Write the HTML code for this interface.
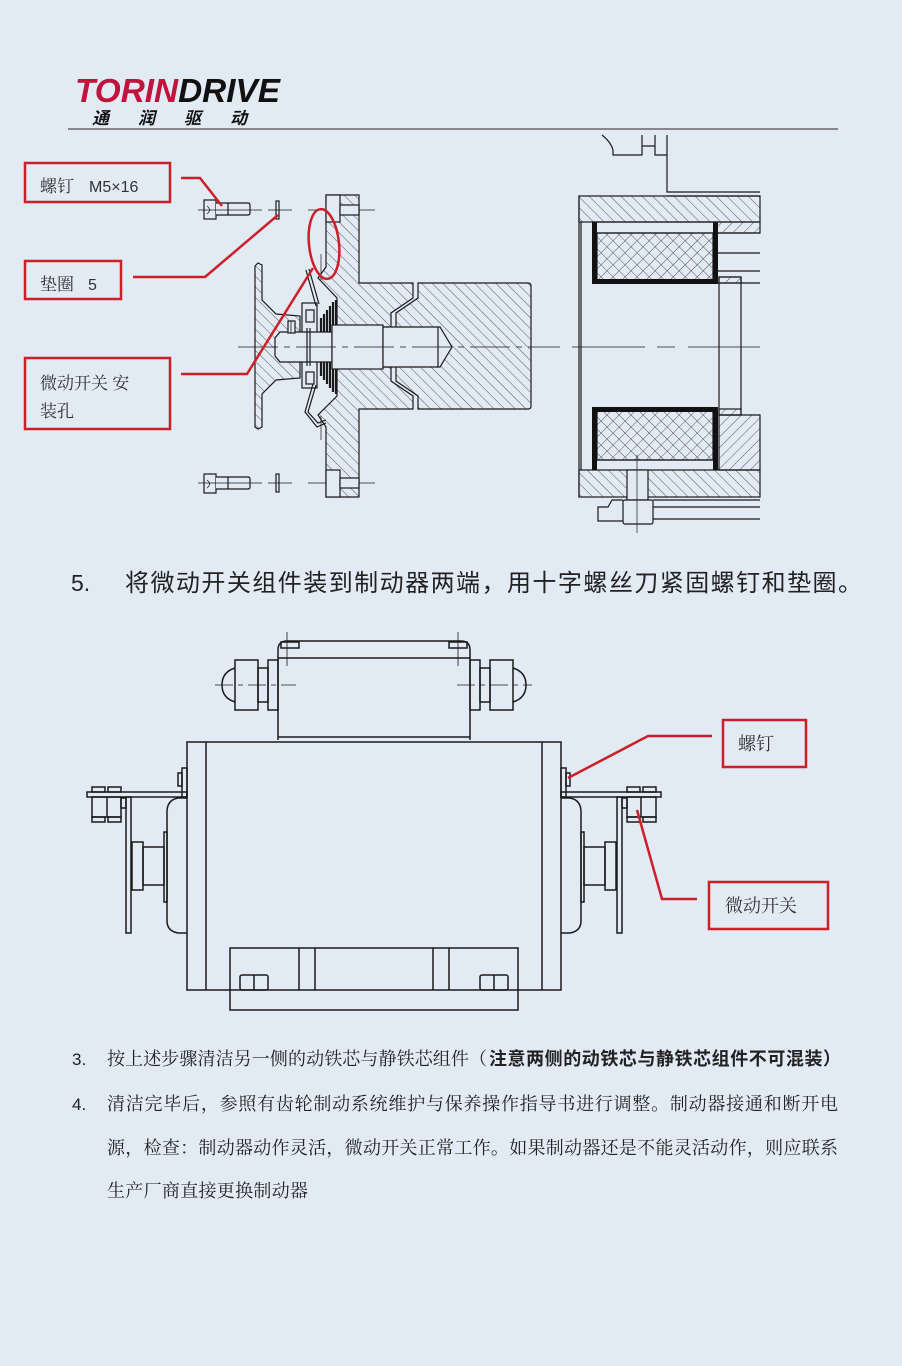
<!DOCTYPE html>
<html><head><meta charset="utf-8"><style>
html,body{margin:0;padding:0;background:#e2eaf4;}
svg{display:block;}
.cjk{font-family:"Liberation Sans","Noto Sans CJK SC",sans-serif;}
.ser{font-family:"Liberation Serif","Noto Serif CJK SC",serif;}
</style></head><body>
<svg width="902" height="1366" viewBox="0 0 902 1366" xmlns="http://www.w3.org/2000/svg">
<defs>
<pattern id="h" patternUnits="userSpaceOnUse" width="7.5" height="7.5" patternTransform="rotate(-45)"><line x1="0" y1="0" x2="0" y2="7.5" stroke="#333" stroke-width="0.8"/></pattern>
<pattern id="h2" patternUnits="userSpaceOnUse" width="7.5" height="7.5" patternTransform="rotate(45)"><line x1="0" y1="0" x2="0" y2="7.5" stroke="#333" stroke-width="0.8"/></pattern>
<pattern id="x" patternUnits="userSpaceOnUse" width="8.5" height="8.5" patternTransform="rotate(45)"><line x1="0" y1="0" x2="0" y2="8.5" stroke="#333" stroke-width="0.8"/><line x1="0" y1="0" x2="8.5" y2="0" stroke="#333" stroke-width="0.8"/></pattern>
</defs>
<rect width="902" height="1366" fill="#e2eaf4"/>

<!-- Header -->
<text x="75" y="102" font-family="Liberation Sans" font-weight="bold" font-style="italic" font-size="33" textLength="205" lengthAdjust="spacingAndGlyphs"><tspan fill="#c0143c">TORIN</tspan><tspan fill="#111">DRIVE</tspan></text>
<g class="cjk" font-size="17" font-weight="bold" font-style="italic" fill="#111">
<text x="92" y="124">通</text><text x="138" y="124">润</text><text x="184" y="124">驱</text><text x="230" y="124">动</text>
</g>
<line x1="68" y1="129" x2="838" y2="129" stroke="#666" stroke-width="1.5"/>

<!-- Top-left assembly -->
<g stroke="#1a1a1a" stroke-width="1.2" fill="none">
  <!-- screws -->
  <rect x="204" y="200" width="12" height="19" fill="#e2eaf4"/>
  <path d="M216,203 H248 Q250,203 250,205 V213 Q250,215 248,215 H216" fill="#e2eaf4"/>
  <line x1="228" y1="203" x2="228" y2="215"/>
  <path d="M207,206 Q212,210 207,214" stroke-width="0.8"/>
  <rect x="276" y="201" width="3" height="18" fill="#e2eaf4"/>
  <rect x="204" y="474" width="12" height="19" fill="#e2eaf4"/>
  <path d="M216,477 H248 Q250,477 250,479 V487 Q250,489 248,489 H216" fill="#e2eaf4"/>
  <line x1="228" y1="477" x2="228" y2="489"/>
  <path d="M207,480 Q212,484 207,488" stroke-width="0.8"/>
  <rect x="276" y="474" width="3" height="18" fill="#e2eaf4"/>
  <g stroke-width="0.8">
    <line x1="198" y1="210" x2="262" y2="210"/><line x1="268" y1="210" x2="292" y2="210"/><line x1="308" y1="210" x2="375" y2="210"/>
    <line x1="198" y1="483" x2="262" y2="483"/><line x1="268" y1="483" x2="292" y2="483"/><line x1="308" y1="483" x2="375" y2="483"/>
  </g>
  <!-- flange -->
  <polygon points="326,195 359,195 359,283 413,283 413,298 391,313 391,327 337,327 337,298 318,278 326,267" fill="url(#h)"/>
  <polygon points="326,497 359,497 359,409 413,409 413,396 391,381 391,367 337,367 337,396 318,415 326,427" fill="url(#h)"/>
  <rect x="326" y="195" width="14" height="27" fill="#e2eaf4"/>
  <rect x="340" y="205" width="19" height="10" fill="#e2eaf4"/>
  <rect x="326" y="470" width="14" height="27" fill="#e2eaf4"/>
  <rect x="340" y="478" width="19" height="10" fill="#e2eaf4"/>
  <!-- armature block -->
  <path d="M418,283 H528 Q531,283 531,286 V406 Q531,409 528,409 H418 V396 L396,381 V313 L418,298 Z" fill="url(#h)"/>
  <!-- cap plate -->
  <polygon points="255,266 258,263 262,265 262,300 276,314 300,316 300,378 276,380 262,394 262,427 258,429 255,427" fill="url(#h)"/>
  <!-- disc stack -->
  <g stroke-width="2.2">
    <line x1="321" y1="318" x2="321" y2="376"/><line x1="324" y1="314" x2="324" y2="380"/>
    <line x1="327" y1="310" x2="327" y2="384"/><line x1="330" y1="306" x2="330" y2="388"/>
    <line x1="333" y1="302" x2="333" y2="392"/><line x1="336" y1="300" x2="336" y2="394"/>
  </g>
  <!-- switch inner block -->
  <rect x="302" y="303" width="15" height="85" fill="#e2eaf4"/>
  <rect x="306" y="310" width="8" height="12"/>
  <rect x="306" y="372" width="8" height="12"/>
  <!-- shaft -->
  <path d="M280,332 H332 V362 H280 L275,356 V338 Z" fill="#e2eaf4"/>
  <line x1="307" y1="328" x2="307" y2="366"/><line x1="310" y1="328" x2="310" y2="366"/>
  <rect x="332" y="325" width="51" height="44" fill="#e2eaf4"/>
  <path d="M383,327 H440 L452,347 L440,367 H383 Z" fill="#e2eaf4"/>
  <line x1="438" y1="327" x2="438" y2="367"/>
  <rect x="288" y="321" width="7" height="12" fill="#e2eaf4"/>
  <line x1="291" y1="321" x2="291" y2="333" stroke-width="0.8"/>
  <!-- springs -->
  <path d="M306,270 L316,306 M309,269 L319,304"/>
  <path d="M313,384 L305,412 L317,427 L326,423 M316,385 L308,412 L318,423 L326,420"/>
  <line x1="321" y1="254" x2="321" y2="280" stroke-width="0.7"/>
  <line x1="321" y1="416" x2="321" y2="440" stroke-width="0.7"/>
  <!-- center line -->
  <path d="M238,347 H560" stroke-width="0.8" stroke-dasharray="40,6,6,6"/>
</g>

<!-- Top-right section -->
<g stroke="#1a1a1a" stroke-width="1.2" fill="none">
  <path d="M602,135 Q611,142 613,150 V155 H642 V135 M642,146 H655 M655,135 V155 H667 M667,135 V192 H760"/>
  <line x1="667" y1="196" x2="760" y2="196"/>
  <rect x="579" y="196" width="181" height="26" fill="url(#h)"/>
  <rect x="579" y="470" width="181" height="27" fill="url(#h)"/>
  <line x1="579" y1="196" x2="579" y2="497"/>
  <line x1="581" y1="222" x2="581" y2="470"/>
  <!-- coils -->
  <rect x="597" y="233" width="116" height="47" fill="url(#x)"/>
  <rect x="597" y="411" width="116" height="49" fill="url(#x)"/>
  <line x1="592" y1="233" x2="717" y2="233"/>
  <line x1="592" y1="460" x2="717" y2="460"/>
  <g fill="#111" stroke="none">
    <rect x="592" y="222" width="5" height="62"/><rect x="713" y="222" width="5" height="62"/><rect x="592" y="279" width="126" height="5"/>
    <rect x="592" y="407" width="5" height="63"/><rect x="713" y="407" width="5" height="63"/><rect x="592" y="407" width="126" height="5"/>
  </g>
  <line x1="592" y1="222" x2="717" y2="222"/>
  <!-- right details -->
  <g>
    <line x1="717" y1="233" x2="760" y2="233"/><line x1="717" y1="253" x2="760" y2="253"/>
    <line x1="717" y1="271" x2="760" y2="271"/><line x1="717" y1="283" x2="760" y2="283"/>
    <rect x="717" y="222" width="43" height="11" fill="url(#h2)"/>
    <rect x="719" y="277" width="22" height="138"/>
    <rect x="719" y="277" width="22" height="6" fill="url(#h2)"/>
    <rect x="719" y="409" width="22" height="6" fill="url(#h2)"/>
    <polygon points="719,415 760,415 760,470 719,470" fill="url(#h2)"/>
  </g>
  <!-- bottom screw -->
  <rect x="627" y="470" width="21" height="30" fill="#e2eaf4"/>
  <rect x="623" y="500" width="30" height="24" rx="2" fill="#e2eaf4"/>
  <path d="M623,500 H612 L608,507 H598 V521 H623"/>
  <line x1="653" y1="500" x2="760" y2="500"/><line x1="653" y1="507" x2="760" y2="507"/><line x1="653" y1="519" x2="760" y2="519"/>
  <line x1="637" y1="455" x2="637" y2="533" stroke-width="0.7"/>
  <path d="M572,347 H760" stroke-width="0.8" stroke-dasharray="73,12,18,13"/>
</g>

<!-- Top callouts -->
<g stroke="#cc1f28" fill="none" stroke-width="2.5">
  <rect x="25" y="163" width="145" height="39"/>
  <rect x="25" y="261" width="96" height="38"/>
  <rect x="25" y="358" width="145" height="71"/>
  <path d="M181,178 H200 L222,206"/>
  <path d="M133,277 H205 L278,215"/>
  <path d="M181,374 H247 L313,268"/>
  <ellipse cx="324" cy="244" rx="15" ry="35" transform="rotate(-6 324 244)"/>
</g>
<g fill="#333" font-size="17">
  <text x="40" y="192" class="ser">螺钉</text>
  <text x="89" y="192" font-family="Liberation Sans" font-size="16">M5×16</text>
  <text x="40" y="290" class="ser">垫圈</text>
  <text x="88" y="290" font-family="Liberation Sans" font-size="16">5</text>
  <text x="40" y="389" class="ser">微动开关 安</text>
  <text x="40" y="417" class="ser">装孔</text>
</g>

<!-- Step 5 -->
<text x="71" y="591" font-family="Liberation Sans" font-size="23" fill="#222">5.</text>
<text x="125" y="591" class="cjk" font-size="24" fill="#222" textLength="737" lengthAdjust="spacing">将微动开关组件装到制动器两端，用十字螺丝刀紧固螺钉和垫圈。</text>

<!-- Middle drawing -->
<g stroke="#1a1a1a" stroke-width="1.5" fill="none">
  <path d="M278,740 V650 Q278,641 287,641 H461 Q470,641 470,650 V740"/>
  <line x1="278" y1="658" x2="470" y2="658"/>
  <line x1="278" y1="737" x2="470" y2="737"/>
  <rect x="281" y="642" width="18" height="6"/>
  <rect x="449" y="642" width="18" height="6"/>
  <line x1="287" y1="632" x2="287" y2="666" stroke-width="0.8"/>
  <line x1="458" y1="632" x2="458" y2="666" stroke-width="0.8"/>
  <!-- glands -->
  <rect x="235" y="660" width="23" height="50"/>
  <path d="M235,668 Q222,672 222,685 Q222,698 235,702"/>
  <rect x="258" y="668" width="10" height="34"/>
  <rect x="268" y="660" width="10" height="50"/>
  <rect x="470" y="660" width="10" height="50"/>
  <rect x="480" y="668" width="10" height="34"/>
  <rect x="490" y="660" width="23" height="50"/>
  <path d="M513,668 Q526,672 526,685 Q526,698 513,702"/>
  <path d="M215,685 H296" stroke-width="0.8" stroke-dasharray="18,5,5,5"/>
  <path d="M457,685 H532" stroke-width="0.8" stroke-dasharray="18,5,5,5"/>
  <!-- body -->
  <rect x="187" y="742" width="374" height="248"/>
  <line x1="206" y1="742" x2="206" y2="990"/>
  <line x1="542" y1="742" x2="542" y2="990"/>
  <rect x="230" y="948" width="288" height="62"/>
  <line x1="299" y1="948" x2="299" y2="990"/><line x1="315" y1="948" x2="315" y2="990"/>
  <line x1="433" y1="948" x2="433" y2="990"/><line x1="449" y1="948" x2="449" y2="990"/>
  <rect x="240" y="975" width="28" height="15" rx="2"/><line x1="254" y1="975" x2="254" y2="990"/>
  <rect x="480" y="975" width="28" height="15" rx="2"/><line x1="494" y1="975" x2="494" y2="990"/>
  <!-- left side -->
  <g id="side">
    <rect x="182" y="768" width="5" height="29"/>
    <rect x="178" y="773" width="4" height="13"/>
    <rect x="87" y="792" width="100" height="5"/>
    <rect x="92" y="787" width="13" height="5"/><rect x="108" y="787" width="13" height="5"/>
    <rect x="92" y="797" width="29" height="20"/><line x1="107" y1="797" x2="107" y2="817"/>
    <rect x="92" y="817" width="13" height="5"/><rect x="108" y="817" width="13" height="5"/>
    <rect x="121" y="798" width="5" height="10"/>
    <rect x="126" y="797" width="5" height="136"/>
    <path d="M187,798 H178 Q167,800 167,812 V921 Q167,931 178,933 H187"/>
    <rect x="164" y="832" width="3" height="70"/>
    <rect x="143" y="847" width="21" height="38"/>
    <rect x="132" y="842" width="11" height="48"/>
  </g>
  <g transform="translate(748,0) scale(-1,1)">
    <rect x="182" y="768" width="5" height="29"/>
    <rect x="178" y="773" width="4" height="13"/>
    <rect x="87" y="792" width="100" height="5"/>
    <rect x="92" y="787" width="13" height="5"/><rect x="108" y="787" width="13" height="5"/>
    <rect x="92" y="797" width="29" height="20"/><line x1="107" y1="797" x2="107" y2="817"/>
    <rect x="92" y="817" width="13" height="5"/><rect x="108" y="817" width="13" height="5"/>
    <rect x="121" y="798" width="5" height="10"/>
    <rect x="126" y="797" width="5" height="136"/>
    <path d="M187,798 H178 Q167,800 167,812 V921 Q167,931 178,933 H187"/>
    <rect x="164" y="832" width="3" height="70"/>
    <rect x="143" y="847" width="21" height="38"/>
    <rect x="132" y="842" width="11" height="48"/>
  </g>
</g>

<!-- Middle callouts -->
<g stroke="#cc1f28" fill="none" stroke-width="2.5">
  <rect x="723" y="720" width="83" height="47"/>
  <rect x="709" y="882" width="119" height="47"/>
  <path d="M712,736 H648 L568,778"/>
  <path d="M697,899 H662 L637,810"/>
</g>
<text x="738" y="750" class="ser" font-size="18" fill="#333">螺钉</text>
<text x="725" y="912" class="ser" font-size="18" fill="#333">微动开关</text>

<!-- Bottom list -->
<g fill="#222">
  <text x="72" y="1065" font-family="Liberation Sans" font-size="17">3.</text>
  <text x="107" y="1065" class="ser" font-size="18" textLength="380" lengthAdjust="spacing">按上述步骤清洁另一侧的动铁芯与静铁芯组件（</text>
  <text x="489" y="1065" class="cjk" font-size="18" font-weight="bold" textLength="352" lengthAdjust="spacing">注意两侧的动铁芯与静铁芯组件不可混装）</text>
  <text x="72" y="1110" font-family="Liberation Sans" font-size="17">4.</text>
  <text x="107" y="1110" class="ser" font-size="18" textLength="731" lengthAdjust="spacing">清洁完毕后，参照有齿轮制动系统维护与保养操作指导书进行调整。制动器接通和断开电</text>
  <text x="107" y="1154" class="ser" font-size="18" textLength="731" lengthAdjust="spacing">源，检查：制动器动作灵活，微动开关正常工作。如果制动器还是不能灵活动作，则应联系</text>
  <text x="107" y="1197" class="ser" font-size="18" textLength="201" lengthAdjust="spacing">生产厂商直接更换制动器</text>
</g>
</svg>
</body></html>
